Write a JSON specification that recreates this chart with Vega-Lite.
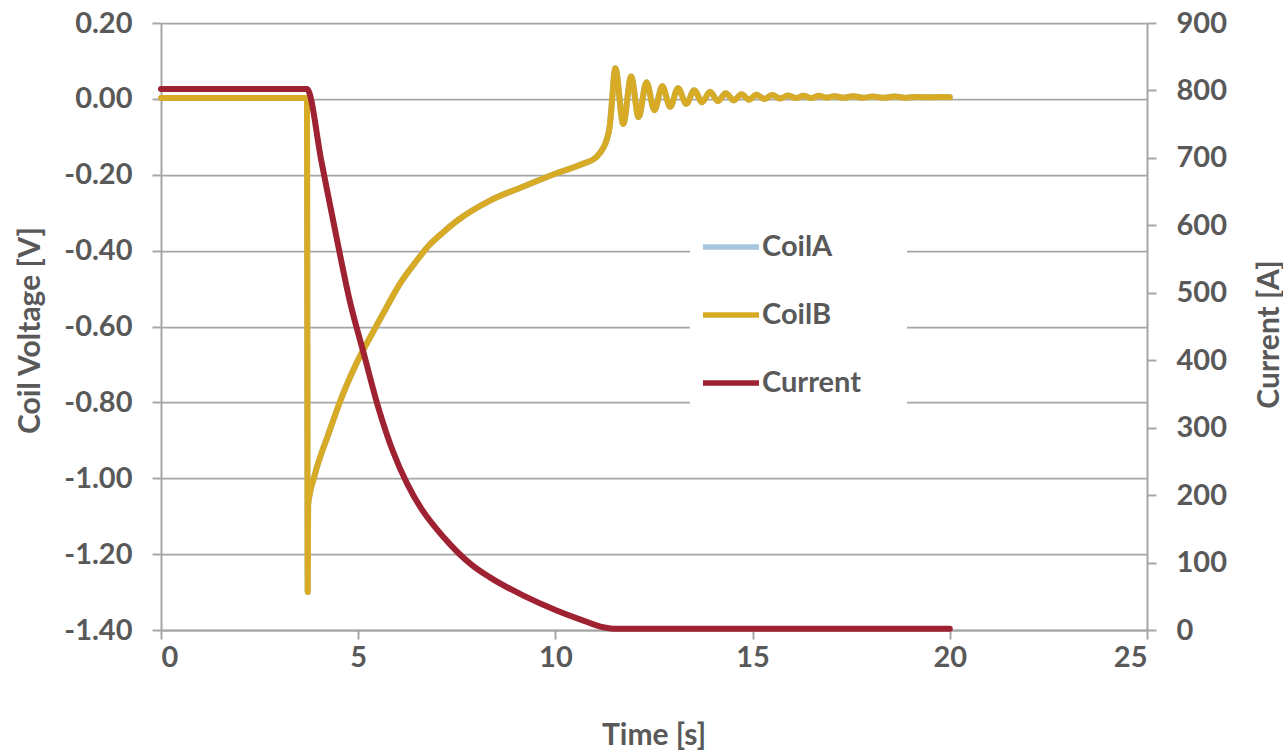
{
  "$schema": "https://vega.github.io/schema/vega-lite/v6.json",
  "width": 986,
  "height": 607,
  "autosize": "none",
  "padding": {"left": 161, "top": 23, "right": 136, "bottom": 121},
  "background": "white",
  "config": {
    "font": "Lato",
    "view": {"stroke": null},
    "axis": {
      "labelFont": "Lato", "labelFontWeight": "bold", "labelFontSize": 29, "labelColor": "#595959",
      "titleFont": "Lato", "titleFontWeight": "bold", "titleFontSize": 30, "titleColor": "#595959",
      "domainColor": "#a6a6a6", "domainWidth": 2, "tickColor": "#a6a6a6", "tickWidth": 2, "tickSize": 9,
      "gridColor": "#a6a6a6", "gridWidth": 1.75
    }
  },
  "datasets": {
    "coil": [
      {"t": 0, "CoilA": 0.002, "CoilB": 0.002},
      {"t": 0.5, "CoilA": 0.002, "CoilB": 0.002},
      {"t": 1, "CoilA": 0.002, "CoilB": 0.002},
      {"t": 1.5, "CoilA": 0.002, "CoilB": 0.002},
      {"t": 2, "CoilA": 0.002, "CoilB": 0.002},
      {"t": 2.5, "CoilA": 0.002, "CoilB": 0.002},
      {"t": 3, "CoilA": 0.002, "CoilB": 0.002},
      {"t": 3.5, "CoilA": 0.002, "CoilB": 0.002},
      {"t": 3.7, "CoilA": 0.002, "CoilB": 0.002},
      {"t": 3.72, "CoilA": -1.3, "CoilB": -1.3},
      {"t": 3.73, "CoilA": -1.07, "CoilB": -1.07},
      {"t": 3.89, "CoilA": -0.995, "CoilB": -0.995},
      {"t": 4.25, "CoilA": -0.882, "CoilB": -0.882},
      {"t": 4.61, "CoilA": -0.779, "CoilB": -0.779},
      {"t": 4.97, "CoilA": -0.694, "CoilB": -0.694},
      {"t": 5.33, "CoilA": -0.623, "CoilB": -0.623},
      {"t": 5.7, "CoilA": -0.553, "CoilB": -0.553},
      {"t": 6.06, "CoilA": -0.487, "CoilB": -0.487},
      {"t": 6.42, "CoilA": -0.435, "CoilB": -0.435},
      {"t": 6.78, "CoilA": -0.388, "CoilB": -0.388},
      {"t": 7.15, "CoilA": -0.352, "CoilB": -0.352},
      {"t": 7.55, "CoilA": -0.318, "CoilB": -0.318},
      {"t": 7.85, "CoilA": -0.297, "CoilB": -0.297},
      {"t": 8.34, "CoilA": -0.268, "CoilB": -0.268},
      {"t": 9.19, "CoilA": -0.231, "CoilB": -0.231},
      {"t": 10.03, "CoilA": -0.196, "CoilB": -0.196},
      {"t": 10.62, "CoilA": -0.174, "CoilB": -0.174},
      {"t": 11.05, "CoilA": -0.152, "CoilB": -0.152},
      {"t": 11.21, "CoilA": -0.13, "CoilB": -0.13},
      {"t": 11.3, "CoilA": -0.108, "CoilB": -0.108},
      {"t": 11.38, "CoilA": -0.07, "CoilB": -0.07},
      {"t": 11.44, "CoilA": 0.0, "CoilB": 0.0},
      {"t": 11.49, "CoilA": 0.065, "CoilB": 0.065},
      {"t": 11.52, "CoilA": 0.081, "CoilB": 0.081},
      {"t": 11.72, "CoilA": -0.066, "CoilB": -0.066},
      {"t": 11.92, "CoilA": 0.059, "CoilB": 0.059},
      {"t": 12.11, "CoilA": -0.048, "CoilB": -0.048},
      {"t": 12.31, "CoilA": 0.044, "CoilB": 0.044},
      {"t": 12.51, "CoilA": -0.03, "CoilB": -0.03},
      {"t": 12.71, "CoilA": 0.033, "CoilB": 0.033},
      {"t": 12.91, "CoilA": -0.021, "CoilB": -0.021},
      {"t": 13.11, "CoilA": 0.028, "CoilB": 0.028},
      {"t": 13.32, "CoilA": -0.013, "CoilB": -0.013},
      {"t": 13.52, "CoilA": 0.023, "CoilB": 0.023},
      {"t": 13.72, "CoilA": -0.009, "CoilB": -0.009},
      {"t": 13.92, "CoilA": 0.019, "CoilB": 0.019},
      {"t": 14.12, "CoilA": -0.006, "CoilB": -0.006},
      {"t": 14.32, "CoilA": 0.015, "CoilB": 0.015},
      {"t": 14.52, "CoilA": -0.004, "CoilB": -0.004},
      {"t": 14.72, "CoilA": 0.012, "CoilB": 0.012},
      {"t": 14.91, "CoilA": -0.002, "CoilB": -0.002},
      {"t": 15.1, "CoilA": 0.011, "CoilB": 0.011},
      {"t": 15.3, "CoilA": 0.0, "CoilB": 0.0},
      {"t": 15.5, "CoilA": 0.01, "CoilB": 0.01},
      {"t": 15.7, "CoilA": 0.001, "CoilB": 0.001},
      {"t": 15.9, "CoilA": 0.009, "CoilB": 0.009},
      {"t": 16.1, "CoilA": 0.002, "CoilB": 0.002},
      {"t": 16.29, "CoilA": 0.008, "CoilB": 0.008},
      {"t": 16.49, "CoilA": 0.002, "CoilB": 0.002},
      {"t": 16.68, "CoilA": 0.008, "CoilB": 0.008},
      {"t": 16.88, "CoilA": 0.003, "CoilB": 0.003},
      {"t": 17.08, "CoilA": 0.007, "CoilB": 0.007},
      {"t": 17.3, "CoilA": 0.003, "CoilB": 0.003},
      {"t": 17.55, "CoilA": 0.007, "CoilB": 0.007},
      {"t": 17.8, "CoilA": 0.003, "CoilB": 0.003},
      {"t": 18.05, "CoilA": 0.006, "CoilB": 0.006},
      {"t": 18.3, "CoilA": 0.003, "CoilB": 0.003},
      {"t": 18.6, "CoilA": 0.006, "CoilB": 0.006},
      {"t": 18.9, "CoilA": 0.003, "CoilB": 0.003},
      {"t": 19.2, "CoilA": 0.005, "CoilB": 0.005},
      {"t": 19.5, "CoilA": 0.004, "CoilB": 0.004},
      {"t": 19.8, "CoilA": 0.005, "CoilB": 0.005},
      {"t": 20.0, "CoilA": 0.004, "CoilB": 0.004}
    ],
    "current": [
      {"t": 0, "I": 802},
      {"t": 1, "I": 802},
      {"t": 2, "I": 802},
      {"t": 3, "I": 802},
      {"t": 3.7, "I": 802},
      {"t": 4.07, "I": 694},
      {"t": 4.43, "I": 588},
      {"t": 4.79, "I": 487},
      {"t": 5.15, "I": 408},
      {"t": 5.52, "I": 328},
      {"t": 5.88, "I": 265},
      {"t": 6.24, "I": 217},
      {"t": 6.6, "I": 180},
      {"t": 6.97, "I": 151},
      {"t": 7.33, "I": 127},
      {"t": 7.58, "I": 112},
      {"t": 7.87, "I": 97},
      {"t": 8.34, "I": 78},
      {"t": 9.19, "I": 51},
      {"t": 10.03, "I": 29},
      {"t": 10.71, "I": 14},
      {"t": 11.21, "I": 4},
      {"t": 11.46, "I": 2},
      {"t": 15, "I": 2},
      {"t": 20, "I": 2}
    ]
  },
  "encoding": {
    "x": {
      "field": "t", "type": "quantitative",
      "scale": {"domain": [0, 25], "nice": false, "zero": false},
      "axis": {
        "values": [0, 5, 10, 15, 20, 25], "grid": false, "labelPadding": 4,
        "title": "Time [s]", "titleX": 492.5, "titleY": 114.5, "titleBaseline": "alphabetic", "titleAlign": "center"
      }
    }
  },
  "layer": [
    {
      "data": {"name": "coil"},
      "transform": [{"fold": ["CoilA", "CoilB"], "as": ["series", "v"]}],
      "mark": {"type": "line", "strokeWidth": 6, "interpolate": "monotone", "strokeCap": "round", "strokeJoin": "round"},
      "encoding": {
        "y": {
          "field": "v", "type": "quantitative",
          "scale": {"domain": [-1.4, 0.2], "nice": false, "zero": false},
          "axis": {
            "orient": "left",
            "values": [-1.4, -1.2, -1, -0.8, -0.6, -0.4, -0.2, 0, 0.2],
            "labelExpr": "(datum.value < -0.0001 ? '-' : '') + format(abs(datum.value), '.2f')",
            "grid": true, "labelPadding": 20,
            "title": "Coil Voltage [V]", "titleAngle": -90, "titleX": -122, "titleY": 307,
            "titleBaseline": "alphabetic", "titleAlign": "center"
          }
        },
        "color": {
          "field": "series", "type": "nominal",
          "scale": {"domain": ["CoilA", "CoilB", "Current"], "range": ["#A5C6DE", "#D8AB26", "#9F2232"]},
          "legend": {
            "orient": "none", "legendX": 529, "legendY": 183,
            "title": "M", "titleOrient": "right", "titlePadding": 0, "titleFontSize": 38, "titleOpacity": 0,
            "fillColor": "white", "padding": 10, "strokeColor": null,
            "symbolType": "stroke", "symbolSize": 3136, "symbolStrokeWidth": 5.5,
            "labelFont": "Lato", "labelFontWeight": "bold", "labelFontSize": 29, "labelColor": "#595959",
            "labelOffset": 0, "rowPadding": 22
          }
        }
      }
    },
    {
      "data": {"name": "current"},
      "mark": {"type": "line", "strokeWidth": 6, "interpolate": "monotone", "strokeCap": "round", "strokeJoin": "round"},
      "encoding": {
        "y": {
          "field": "I", "type": "quantitative",
          "scale": {"domain": [0, 900], "nice": false},
          "axis": {
            "orient": "right",
            "values": [0, 100, 200, 300, 400, 500, 600, 700, 800, 900],
            "grid": false, "labelPadding": 20,
            "title": "Current [A]", "titleAngle": -90, "titleX": 131, "titleY": 311,
            "titleBaseline": "alphabetic", "titleAlign": "center"
          }
        },
        "color": {"datum": "Current"}
      }
    }
  ],
  "resolve": {"scale": {"y": "independent"}}
}
